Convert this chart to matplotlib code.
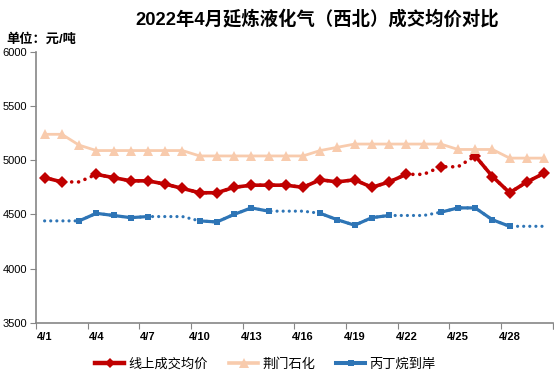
import numpy as np
import matplotlib
matplotlib.use('Agg')
import matplotlib.pyplot as plt
from matplotlib.lines import Line2D

plt.rcParams['font.family'] = ['Liberation Sans', 'Noto Sans CJK SC', 'DejaVu Sans']

# ── Data (April 2022, yuan/ton) ────────────────────────────────────────────────
days = list(range(1, 31))
tick_days = [1, 4, 7, 10, 13, 16, 19, 22, 25, 28]
tick_labels = [f"4/{d}" for d in tick_days]

# 线上成交均价
online_avg = [4840, 4800, 4800, 4870, 4840, 4810, 4810, 4780, 4740, 4700,
              4700, 4750, 4770, 4770, 4770, 4750, 4820, 4800, 4820, 4750,
              4800, 4870, 4870, 4940, 4940, 5040, 4850, 4700, 4800, 4880]
online_gap = [3, 23, 25]          # days carried forward (dotted)

# 荆门石化
jingmen = [5240, 5240, 5140, 5090, 5090, 5090, 5090, 5090, 5090, 5040,
           5040, 5040, 5040, 5040, 5040, 5040, 5090, 5120, 5150, 5150,
           5150, 5150, 5150, 5150, 5100, 5100, 5100, 5020, 5020, 5020]
jingmen_gap = []

# 丙丁烷到岸
propane = [4440, 4440, 4440, 4510, 4490, 4470, 4480, 4480, 4480, 4440,
           4430, 4500, 4560, 4530, 4530, 4530, 4510, 4450, 4400, 4470,
           4490, 4490, 4490, 4520, 4560, 4560, 4450, 4390, 4390, 4390]
propane_gap = [1, 2, 8, 9, 15, 16, 22, 23, 29, 30]

RED = "#C00000"
PEACH = "#F8CBAD"
BLUE = "#2E75B6"
AXIS = "#868686"

series = [
    ("线上成交均价", online_avg, online_gap, RED, "D", 6.0, 2.6),
    ("荆门石化", jingmen, jingmen_gap, PEACH, "^", 7.5, 2.0),
    ("丙丁烷到岸", propane, propane_gap, BLUE, "s", 5.0, 2.3),
]

fig = plt.figure(figsize=(5.54, 3.80), dpi=100)
ax = fig.add_axes([0.065, 0.151, 0.9327, 0.712])

x = np.array(days)
handles = []
for name, vals, gaps, color, marker, ms, lw in series:
    vals = np.array(vals, dtype=float)
    if gaps:
        ax.plot(x, vals, color=color, lw=lw, linestyle=(0, (0.01, 1.9)),
                dash_capstyle="round", zorder=2)
    solid = vals.copy()
    for d in gaps:
        solid[d - 1] = np.nan
    ax.plot(x, solid, color=color, lw=lw, marker=marker, markersize=ms,
            markeredgewidth=0, zorder=3)
    handles.append(Line2D([], [], color=color, lw=lw + 0.6, marker=marker,
                          markersize=ms - 1, markeredgewidth=0, label=name))

ax.set_xlim(0.5, 30.5)
ax.set_ylim(3500, 6000)
ax.set_yticks(np.arange(3500, 6001, 500))

ax.set_xticks(np.arange(0.5, 31, 3).tolist() + [30.5])
ax.set_xticklabels([])
ax.set_xticks(tick_days, minor=True)
ax.set_xticklabels(tick_labels, minor=True, fontsize=8, fontweight="bold")
ax.tick_params(axis="x", which="major", length=4, color=AXIS, direction="out")
ax.tick_params(axis="x", which="minor", length=0, pad=7)
ax.tick_params(axis="y", length=4, color=AXIS, labelsize=8, pad=2.5)

for s in ["top", "right"]:
    ax.spines[s].set_visible(False)
for s in ["left", "bottom"]:
    ax.spines[s].set_color(AXIS)
    ax.spines[s].set_linewidth(1.2)

fig.text(0.572, 0.949, "2022年4月延炼液化气（西北）成交均价对比",
         ha="center", va="center", fontsize=13.2, fontweight="bold")
fig.text(0.012, 0.895, "单位：元/吨", ha="left", va="center",
         fontsize=9.5, fontweight="bold")

fig.legend(handles=handles, loc="center", bbox_to_anchor=(0.479, 0.04),
           ncol=3, frameon=False, fontsize=9.5, handlelength=2.2,
           handletextpad=0.3, columnspacing=1.6)

fig.savefig("out.png", dpi=100, facecolor="white")
